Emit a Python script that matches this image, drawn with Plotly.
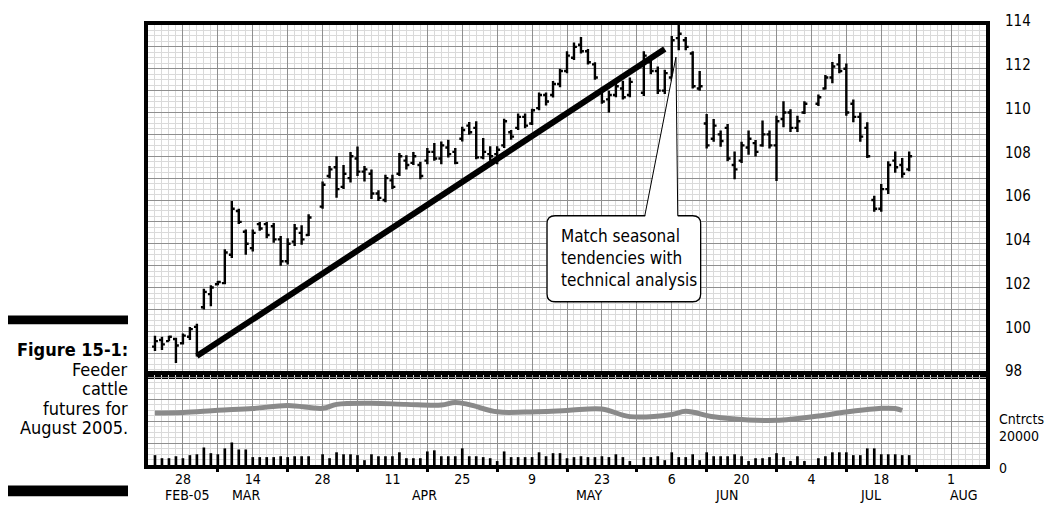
import plotly.graph_objects as go

# Trading-day index: 0 = Mon 21 Feb 2005, five slots per week.
# Holidays (21 Feb, 25 Mar, 30 May, 4 Jul) have no bar.
day = [1, 2, 3, 4, 5, 6, 7, 8, 9, 10, 11, 12, 13, 14, 15, 16, 17, 18, 19, 20, 21, 22, 23,
       25, 26, 27, 28, 29, 30, 31, 32, 33, 34, 35, 36, 37, 38, 39, 40, 41, 42, 43, 44, 45,
       46, 47, 48, 49, 50, 51, 52, 53, 54, 55, 56, 57, 58, 59, 60, 61, 62, 63, 64, 65, 66,
       67, 68, 69, 71, 72, 73, 74, 75, 76, 77, 78, 79, 80, 81, 82, 83, 84, 85, 86, 87, 88,
       89, 90, 91, 92, 93, 94, 96, 97, 98, 99, 100, 101, 102, 103, 104, 105, 106, 107, 108, 109]

high = [99.80, 99.75, 99.80, 99.70, 99.90, 100.20, 100.35, 101.95, 102.10, 102.30, 103.75, 105.95,
        105.60, 104.65, 104.65, 105.00, 105.00, 104.95, 104.35, 104.25, 104.90, 104.85, 105.35,
        106.85, 107.55, 108.00, 107.60, 108.20, 108.45, 107.55, 107.40, 106.45, 107.15, 107.15,
        108.15, 108.05, 108.20, 107.75, 108.38, 108.61, 108.68, 108.76, 108.38, 109.35, 109.57,
        109.60, 108.83, 108.46, 108.46, 109.72, 109.20, 109.95, 109.95, 110.17, 110.92, 110.92,
        111.44, 112.00, 112.80, 113.20, 113.45, 112.90, 112.30, 111.15, 111.00, 111.35, 111.45,
        111.60, 112.80, 112.40, 112.10, 111.95, 113.50, 114.00, 113.45, 112.80, 111.90, 109.93,
        109.70, 109.18, 109.48, 108.22, 108.66, 109.18, 108.74, 109.63, 109.18, 109.85, 110.52,
        110.15, 109.85, 110.52, 110.82, 111.72, 112.31, 112.68, 112.24, 110.60, 110.00, 109.55,
        106.20, 106.73, 107.77, 108.22, 107.92, 108.22]

low = [99.10, 99.15, 99.55, 98.55, 99.40, 99.60, 98.85, 101.00, 101.15, 102.10, 102.15, 103.35,
       104.90, 103.50, 103.65, 104.60, 104.25, 104.05, 103.00, 103.05, 103.90, 103.95, 104.35,
       105.60, 107.00, 106.10, 106.50, 106.80, 107.10, 106.85, 106.05, 105.95, 105.90, 106.50,
       107.10, 107.40, 107.60, 106.95, 107.64, 107.79, 107.64, 107.94, 107.64, 108.68, 108.98,
       107.86, 107.86, 107.79, 107.64, 108.38, 108.76, 109.20, 109.28, 109.43, 110.10, 110.32,
       110.69, 111.15, 111.80, 112.40, 112.70, 112.20, 111.50, 110.40, 110.00, 110.70, 110.60,
       110.70, 110.75, 111.75, 110.85, 110.85, 111.45, 112.85, 112.85, 111.10, 111.00, 108.36,
       108.66, 108.44, 107.77, 106.95, 107.69, 108.07, 107.99, 108.44, 108.36, 106.87, 109.33,
       109.11, 109.11, 109.93, 110.30, 111.05, 111.34, 111.79, 109.85, 109.55, 108.66, 107.92,
       105.46, 105.46, 106.28, 107.25, 107.02, 107.32]

open_ = [99.30, 99.60, 99.55, 99.65, 99.45, 99.75, 100.20, 101.10, 101.70, 102.15, 102.20, 103.50,
         105.50, 104.55, 103.80, 104.90, 104.90, 104.80, 104.20, 103.20, 104.10, 104.50, 104.40,
         105.70, 107.10, 107.50, 106.60, 107.00, 107.90, 107.30, 107.20, 106.30, 106.00, 106.90,
         107.20, 107.80, 107.70, 107.60, 107.80, 108.20, 107.90, 108.40, 108.20, 108.80, 109.40,
         109.30, 107.95, 108.10, 108.10, 108.50, 109.10, 109.30, 109.80, 109.50, 110.20, 110.80,
         110.80, 111.30, 111.90, 112.50, 113.10, 112.80, 112.20, 111.00, 110.60, 110.80, 111.10,
         110.80, 110.90, 112.30, 111.90, 111.00, 111.60, 113.40, 113.30, 112.70, 111.10, 109.50,
         108.80, 109.00, 109.30, 107.60, 107.80, 108.40, 108.60, 108.50, 109.00, 108.50, 109.70,
         110.00, 109.30, 110.00, 110.40, 111.10, 111.60, 112.20, 112.00, 110.40, 109.80, 109.30,
         106.00, 105.60, 106.50, 107.80, 107.60, 107.40]

close = [99.55, 99.40, 99.75, 99.35, 99.80, 100.10, 98.95, 101.80, 102.00, 102.25, 103.60, 105.60,
         105.00, 104.00, 104.50, 104.70, 104.40, 104.20, 103.20, 104.00, 104.70, 104.20, 105.20,
         106.70, 107.40, 106.50, 107.20, 108.00, 107.30, 107.40, 106.30, 106.10, 107.00, 106.60,
         108.00, 107.60, 108.00, 107.10, 108.20, 107.90, 108.50, 108.10, 107.70, 109.20, 109.10,
         107.95, 108.20, 108.00, 108.30, 109.60, 108.90, 109.80, 109.40, 110.10, 110.80, 110.50,
         111.30, 111.90, 112.60, 113.00, 112.80, 112.30, 111.60, 110.50, 110.80, 111.20, 110.70,
         111.40, 112.60, 111.90, 111.00, 111.80, 113.30, 113.60, 113.00, 111.20, 111.20, 108.50,
         109.40, 108.70, 107.90, 107.40, 108.50, 108.80, 108.20, 109.00, 108.50, 109.60, 110.00,
         109.30, 109.60, 110.40, 110.70, 111.60, 112.10, 111.90, 110.00, 109.80, 108.90, 108.00,
         105.60, 106.50, 107.60, 107.50, 107.20, 108.00]

# Daily volume (contracts)
volume = [4500, 3100, 3100, 4000, 3100, 4500, 4900, 8000, 5400, 4900, 7600, 10300, 7100, 7100,
          3600, 3600, 3600, 3600, 4000, 3600, 4000, 4000, 4000, 4900, 3100, 5800, 4900, 4900,
          4500, 2200, 4900, 4000, 4000, 4000, 5800, 3100, 3100, 3100, 6200, 6700, 4000, 4000,
          4000, 7600, 4000, 4000, 3600, 3100, 1800, 6200, 3600, 3600, 3600, 3600, 5800, 4000,
          5400, 5400, 3100, 3600, 4000, 3600, 3600, 4000, 3600, 4900, 3600, 1800, 3600, 3600,
          4000, 2200, 5800, 3600, 3600, 4900, 2200, 5800, 4000, 4000, 4000, 4900, 4000, 1800,
          3100, 3100, 3600, 5400, 3600, 1800, 4000, 1800, 3100, 4000, 5800, 5800, 5800, 4500,
          4500, 7600, 7600, 4900, 4900, 4900, 4500, 4500]

# Open interest (contracts), sampled on selected trading days
oi_day = [1, 5, 10, 15, 20, 25, 27, 32, 37, 42, 44, 46, 50, 54, 60, 65, 69, 75, 77, 81,
          86, 90, 96, 100, 105, 107, 108]
oi = [23800, 24000, 25000, 25800, 27200, 25900, 27700, 28200, 27700, 27400, 28600, 27600,
      24300, 24200, 24900, 25600, 22100, 23100, 24500, 22000, 20600, 20400, 22400, 24200,
      25900, 25800, 24900]

# Axis labelling
day_tick_pos = [5, 15, 25, 35, 45, 55, 65, 75, 85, 95, 105, 115]
day_tick_text = ["28", "14", "28", "11", "25", "9", "23", "6", "20", "4", "18", "1"]
month_pos = [5.6, 14.0, 39.6, 63.2, 82.9, 103.4, 116.9]
month_text = ["FEB-05", "MAR", "APR", "MAY", "JUN", "JUL", "AUG"]
price_labels = [98, 100, 102, 104, 106, 108, 110, 112, 114]

# Trendline and callout geometry (trading-day / price coordinates)
trend_x = [7, 74]
trend_y = [98.87, 112.9]
callout_lines = ["Match seasonal", "tendencies with", "technical analysis"]
caption_lines = ["<b>Figure 15-1:</b>", "Feeder", "cattle", "futures for", "August 2005."]

FONT = "Liberation Sans Narrow, DejaVu Sans Condensed, Arial Narrow, Roboto Condensed, sans-serif"
MAJOR = "#8f8f8f"
MINOR = "#dadada"
VOL_SPLIT = 92 / 450

fig = go.Figure()

fig.add_trace(go.Ohlc(
    x=day, open=open_, high=high, low=low, close=close,
    xaxis="x", yaxis="y", tickwidth=0.42,
    increasing=dict(line=dict(color="black", width=2.4)),
    decreasing=dict(line=dict(color="black", width=2.4)),
    hoverinfo="skip", showlegend=False,
))
fig.add_trace(go.Bar(
    x=day, y=volume, xaxis="x2", yaxis="y2", width=0.38,
    marker=dict(color="black", line=dict(width=0)), showlegend=False, hoverinfo="skip",
))
fig.add_trace(go.Scatter(
    x=oi_day, y=oi, xaxis="x2", yaxis="y2", mode="lines",
    line=dict(color="#8a8a8a", width=5, shape="spline", smoothing=1.0),
    showlegend=False, hoverinfo="skip",
))
# carrier for the bottom tick-mark axis
fig.add_trace(go.Scatter(x=[0], y=[0], xaxis="x3", yaxis="y2", mode="markers",
                         marker=dict(opacity=0), showlegend=False, hoverinfo="skip"))

frame = dict(showline=True, linecolor="black", linewidth=4, mirror=True, zeroline=False)
xgrid = dict(range=[0, 120], tickvals=list(range(0, 121, 5)), showgrid=True,
             gridcolor=MAJOR, gridwidth=1,
             minor=dict(dtick=1, tick0=0, showgrid=True, gridcolor=MINOR, gridwidth=1))

price_tickvals = list(range(98, 115))
price_ticktext = [str(v) if v in price_labels else "" for v in price_tickvals]
x2_ticktext = [day_tick_text[day_tick_pos.index(v)] if v in day_tick_pos else ""
               for v in range(0, 121, 5)]

fig.update_layout(
    width=1045, height=505, autosize=False,
    margin=dict(l=148, r=59, t=15, b=40, pad=0),
    paper_bgcolor="white", plot_bgcolor="white",
    font=dict(family=FONT, size=15, color="black"),
    xaxis=dict(domain=[0, 1], anchor="y", showticklabels=False, ticks="",
               rangeslider=dict(visible=False), **xgrid, **frame),
    xaxis2=dict(domain=[0, 1], anchor="y2", ticks="", ticktext=x2_ticktext,
                ticklabelstandoff=-2, tickfont=dict(size=14), **xgrid, **frame),
    xaxis3=dict(overlaying="x2", anchor="y2", side="bottom", range=[0, 120],
                tickvals=list(range(10, 111, 10)), ticks="outside", ticklen=6, tickwidth=3,
                tickcolor="black", showticklabels=False, showgrid=False, showline=False,
                zeroline=False),
    yaxis=dict(domain=[VOL_SPLIT, 1], anchor="x", range=[98, 114], side="right",
               tickvals=price_tickvals, ticktext=price_ticktext,
               ticks="outside", ticklen=12, tickcolor="rgba(0,0,0,0)", ticklabelshift=-4,
               tickfont=dict(size=15), showgrid=True, gridcolor=MAJOR, gridwidth=1,
               minor=dict(dtick=0.25, tick0=0, showgrid=True, gridcolor=MINOR, gridwidth=1),
               **frame),
    yaxis2=dict(domain=[0, VOL_SPLIT], anchor="x2", range=[0, 41100], side="right",
                tickvals=[0, 10000, 20000, 30000, 40000], showticklabels=False, ticks="",
                showgrid=True, gridcolor=MAJOR, gridwidth=1,
                minor=dict(dtick=2500, tick0=0, showgrid=True, gridcolor=MINOR, gridwidth=1),
                **frame),
)

shapes = []
# trendline
shapes.append(dict(type="line", xref="x", yref="y", x0=trend_x[0], y0=trend_y[0],
                   x1=trend_x[1], y1=trend_y[1], line=dict(color="black", width=6),
                   layer="above"))

# callout box with rounded corners
bx0, bx1, by0, by1 = 57.14, 79.14, 101.35, 105.28
rx, ry = 1.15, 0.36
box_path = (f"M {bx0 + rx} {by0} L {bx1 - rx} {by0} Q {bx1} {by0} {bx1} {by0 + ry} "
            f"L {bx1} {by1 - ry} Q {bx1} {by1} {bx1 - rx} {by1} "
            f"L {bx0 + rx} {by1} Q {bx0} {by1} {bx0} {by1 - ry} "
            f"L {bx0} {by0 + ry} Q {bx0} {by0} {bx0 + rx} {by0} Z")
shapes.append(dict(type="path", xref="x", yref="y", path=box_path, fillcolor="white",
                   line=dict(color="black", width=1.3), layer="above"))
# pointer of the callout
tip_x, tip_y = 75.6, 112.53
wl, wr = 71.14, 75.86
shapes.append(dict(type="path", xref="x", yref="y",
                   path=f"M {wl} {by1 - 0.12} L {tip_x} {tip_y} L {wr} {by1 - 0.12} Z",
                   fillcolor="white", line=dict(width=0), layer="above"))
shapes.append(dict(type="path", xref="x", yref="y",
                   path=f"M {wl} {by1} L {tip_x} {tip_y} L {wr} {by1}",
                   fillcolor="rgba(0,0,0,0)", line=dict(color="black", width=1), layer="above"))

# caption rules at the left
shapes.append(dict(type="rect", xref="paper", yref="paper",
                   x0=(8 - 148) / 838, x1=(128 - 148) / 838,
                   y0=(465 - 321) / 450, y1=(465 - 312) / 450,
                   fillcolor="black", line=dict(width=0)))
shapes.append(dict(type="rect", xref="paper", yref="paper",
                   x0=(8 - 148) / 838, x1=(128 - 148) / 838,
                   y0=(465 - 497) / 450, y1=(465 - 486) / 450,
                   fillcolor="black", line=dict(width=0)))
fig.update_layout(shapes=shapes)

ann = []
ann.append(dict(xref="x", yref="y", x=58.86, y=103.35, xanchor="left", yanchor="middle",
                align="left", showarrow=False, text="<br>".join(callout_lines),
                font=dict(size=17, family=FONT)))
for txt, pos in zip(month_text, month_pos):
    ann.append(dict(xref="x2", yref="paper", x=pos, y=(465 - 496) / 450, yanchor="middle",
                    showarrow=False, text=txt, font=dict(size=14, family=FONT)))
cap_y = [347, 367, 387, 407, 427]
for txt, ypx in zip(caption_lines, cap_y):
    ann.append(dict(xref="paper", yref="paper", x=(130 - 148) / 838, y=(465 - ypx) / 450,
                    xanchor="right", yanchor="middle", showarrow=False, text=txt,
                    font=dict(size=18, family=FONT)))
for txt, ypx in [("Cntrcts", 418), ("20000", 435), ("0", 468)]:
    ann.append(dict(xref="paper", yref="paper", x=(997 - 148) / 838, y=(465 - ypx) / 450,
                    xanchor="left", yanchor="middle", showarrow=False, text=txt,
                    font=dict(size=14, family=FONT)))
fig.update_layout(annotations=ann)

fig.write_html("out.html")
